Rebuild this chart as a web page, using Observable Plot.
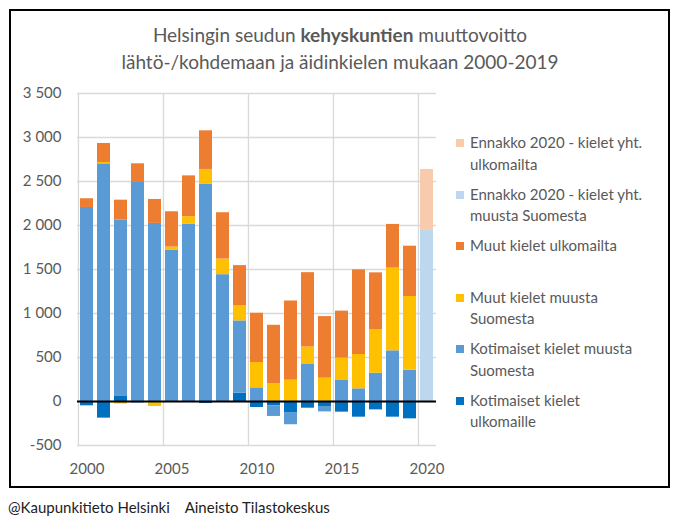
<!DOCTYPE html>
<html><head><meta charset="utf-8">
<script src="https://cdn.jsdelivr.net/npm/d3@7"></script>
<script src="https://cdn.jsdelivr.net/npm/@observablehq/plot@0.6"></script>
<style>
html,body{margin:0;padding:0;background:#fff;}
body{width:680px;height:531px;position:relative;font-family:Lato,"Open Sans",sans-serif;overflow:hidden}
#frame{position:absolute;left:9px;top:9px;width:661px;height:479px;border:2px solid #000;box-sizing:border-box}
#title{position:absolute;left:10px;width:660px;top:22px;text-align:center;font-size:19px;line-height:26.5px;color:#595959}
#chart{position:absolute;left:0;top:80px}
.leg{position:absolute;left:470px;font-size:15px;line-height:21.5px;color:#595959;white-space:nowrap}
.sw{position:absolute;left:456px;width:8px;height:8px}
#footer{position:absolute;left:8px;top:498px;font-size:15px;color:#222;white-space:nowrap}
</style></head><body>
<div id="frame"></div>
<div id="title">Helsingin seudun <b>kehyskuntien</b> muuttovoitto<br>lähtö-/kohdemaan ja äidinkielen mukaan 2000-2019</div>
<div id="chart"></div>
<div id="legend"></div>
<div id="footer">@Kaupunkitieto Helsinki&nbsp;&nbsp;&nbsp;&nbsp;Aineisto Tilastokeskus</div>
<script>
const years = [2000,2001,2002,2003,2004,2005,2006,2007,2008,2009,2010,2011,2012,2013,2014,2015,2016,2017,2018,2019,2020];
const seriesNames = [
  "Kotimaiset kielet ulkomaille",
  "Kotimaiset kielet muusta Suomesta",
  "Muut kielet muusta Suomesta",
  "Muut kielet ulkomailta",
  "Ennakko 2020 - kielet yht. muusta Suomesta",
  "Ennakko 2020 - kielet yht. ulkomailta"
];
const seriesColors = ["#0070C0","#5B9BD5","#FFC000","#ED7D31","#BDD7EE","#F8CBAD"];
const kotimaisetUlkomaille = [-49,-189,64,-15,-12,0,0,-23,0,95,-68,-49,-132,-76,-57,-121,-178,-95,-178,-197,null];
const kotimaisetMuusta     = [2205,2701,1997,2489,2024,1717,2016,2467,1441,821,155,-121,-132,427,-61,239,144,322,576,356,null];
const muutMuusta           = [0,15,-28,0,-45,38,83,170,178,170,288,200,242,193,265,254,390,496,940,837,null];
const muutUlkomailta       = [99,216,227,212,272,401,465,439,526,458,560,666,900,844,700,534,962,644,496,572,null];
const ennakkoMuusta        = [null,null,null,null,null,null,null,null,null,null,null,null,null,null,null,null,null,null,null,null,1944];
const ennakkoUlkomailta    = [null,null,null,null,null,null,null,null,null,null,null,null,null,null,null,null,null,null,null,null,693];
const xTicks = [2000,2005,2010,2015,2020];
const yTicks = [-500,0,500,1000,1500,2000,2500,3000,3500];
const yTickLabels = ["-500","0","500","1 000","1 500","2 000","2 500","3 000","3 500"];
const legendItems = [
  ["Ennakko 2020 - kielet yht.","ulkomailta"],
  ["Ennakko 2020 - kielet yht.","muusta Suomesta"],
  ["Muut kielet ulkomailta"],
  ["Muut kielet muusta","Suomesta"],
  ["Kotimaiset kielet muusta","Suomesta"],
  ["Kotimaiset kielet","ulkomaille"]
];
const legendColors = ["#F8CBAD","#BDD7EE","#ED7D31","#FFC000","#5B9BD5","#0070C0"];

const allSeries = [kotimaisetUlkomaille,kotimaisetMuusta,muutMuusta,muutUlkomailta,ennakkoMuusta,ennakkoUlkomailta];
const data = [];
allSeries.forEach((vals, s) => vals.forEach((v, i) => {
  if (v != null && v !== 0) data.push({year: years[i], series: seriesNames[s], value: v});
}));

const W = 445, H = 400, ML = 77, MR = 9, MT = 13, MB = 35;
const step = (W - ML - MR) / years.length;
const chart = Plot.plot({
  width: W, height: H, marginLeft: ML, marginRight: MR, marginTop: MT, marginBottom: MB,
  style: {fontFamily: "Lato, sans-serif", fontSize: "15px", color: "#595959", background: "transparent"},
  x: {type: "band", domain: years, paddingInner: 0.26, paddingOuter: 0.13, align: 0.5, label: null},
  y: {domain: [-500, 3500], label: null},
  color: {domain: seriesNames, range: seriesColors},
  marks: [
    Plot.gridY(yTicks, {stroke: "#d9d9d9", strokeOpacity: 1, strokeWidth: 1.3}),
    Plot.ruleX(xTicks, {x: d => d, y1: -500, y2: 3500, dx: -step / 2, stroke: "#d9d9d9", strokeWidth: 1.3}),
    Plot.barY(data, {x: "year", y: "value", fill: "series"}),
    Plot.ruleY([0], {stroke: "#000", strokeWidth: 2}),
    Plot.axisY(yTicks, {tickSize: 0, tickPadding: 16, label: null, tickFormat: d => yTickLabels[yTicks.indexOf(d)]}),
    Plot.axisX(xTicks, {tickSize: 0, tickPadding: 18, label: null, tickFormat: d => String(d)})
  ]
});
document.getElementById("chart").appendChild(chart);

const leg = document.getElementById("legend");
legendItems.forEach((lines, i) => {
  const top = 132 + i * 51.5;
  const sw = document.createElement("div");
  sw.className = "sw";
  sw.style.top = (top + 7) + "px";
  sw.style.background = legendColors[i];
  leg.appendChild(sw);
  const t = document.createElement("div");
  t.className = "leg";
  t.style.top = top + "px";
  t.innerHTML = lines.join("<br>");
  leg.appendChild(t);
});
</script>
</body></html>
